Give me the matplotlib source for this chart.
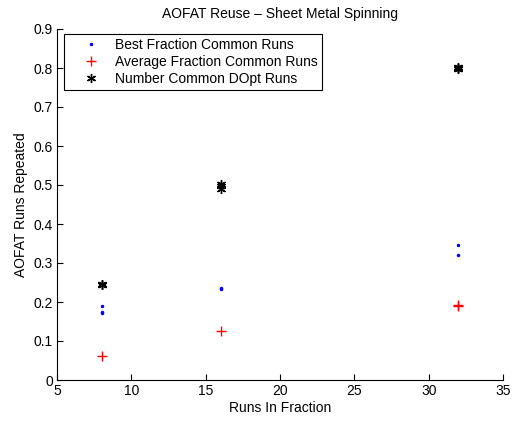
import matplotlib
matplotlib.use("Agg")
import matplotlib.pyplot as plt

plt.rcParams['font.family'] = ['Liberation Sans', 'DejaVu Sans']

best_runs = [8, 8, 8, 16, 16, 32, 32]
best_frac = [0.190, 0.175, 0.172, 0.234, 0.237, 0.345, 0.321]
avg_runs = [8, 16, 32, 32]
avg_frac = [0.0625, 0.125, 0.190, 0.1925]
dopt_runs = [8, 8, 16, 16, 16, 32, 32, 32]
dopt_frac = [0.245, 0.243, 0.490, 0.497, 0.503, 0.797, 0.800, 0.803]

fig = plt.figure(figsize=(5.12, 4.22), dpi=100)
ax = fig.add_axes([57/512, 1 - 380/422, (503 - 57)/512, (380 - 29)/422])

ax.plot(best_runs, best_frac, linestyle='none', marker='.', color='#0000ff',
        markersize=3, label='Best Fraction Common Runs')
ax.plot(avg_runs, avg_frac, linestyle='none', marker='+', color='#ff0000',
        markersize=6.5, markeredgewidth=1.0, label='Average Fraction Common Runs')
ax.plot(dopt_runs, dopt_frac, linestyle='none', marker=(6, 2, 0), color='black',
        markersize=6.5, markeredgewidth=1.0, label='Number Common DOpt Runs')

ax.set_xlim(5, 35)
ax.set_ylim(0, 0.9)
ax.set_xticks([5, 10, 15, 20, 25, 30, 35])
ax.set_yticks([0, 0.1, 0.2, 0.3, 0.4, 0.5, 0.6, 0.7, 0.8, 0.9])
ax.set_yticklabels(['0', '0.1', '0.2', '0.3', '0.4', '0.5', '0.6', '0.7', '0.8', '0.9'])
ax.spines['top'].set_visible(False)
ax.spines['right'].set_visible(False)
for s in ['left', 'bottom']:
    ax.spines[s].set_linewidth(0.8)
ax.tick_params(direction='in', length=4, width=0.8, labelsize=10, pad=3)

ax.set_xlabel('Runs In Fraction', fontsize=10, labelpad=2)
ax.set_ylabel('AOFAT Runs Repeated', fontsize=10, labelpad=4)
ax.set_title('AOFAT Reuse \u2013 Sheet Metal Spinning', fontsize=10, pad=8)

leg = ax.legend(loc='upper left', bbox_to_anchor=((64 - 57)/446, 1 - (34 - 29)/351),
                fontsize=10, frameon=True, fancybox=False, framealpha=1,
                edgecolor='black', borderpad=0.3, labelspacing=0.2,
                handlelength=3.3, handletextpad=0.1, borderaxespad=0)
leg.get_frame().set_linewidth(0.8)

fig.savefig('out.png', dpi=100)
